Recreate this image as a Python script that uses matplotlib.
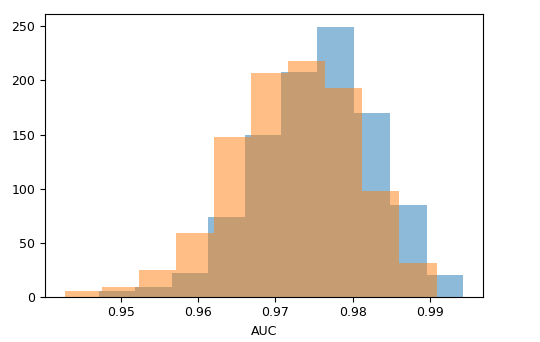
import matplotlib
matplotlib.use("Agg")
import matplotlib.pyplot as plt
import numpy as np

# Series 1 (blue) histogram: bin edges and counts
blue_edges = [0.94718, 0.95189, 0.95660, 0.96131, 0.96602, 0.97073,
              0.97545, 0.98016, 0.98487, 0.98958, 0.99429]
blue_counts = [5, 9, 22, 74, 150, 208, 249, 170, 85, 20]

# Series 2 (orange) histogram: bin edges and counts
orange_edges = [0.94276, 0.94757, 0.95238, 0.95719, 0.96200, 0.96681,
                0.97163, 0.97644, 0.98125, 0.98606, 0.99087]
orange_counts = [5, 9, 25, 59, 148, 207, 218, 193, 98, 31]

xlabel = "AUC"
xticks = [0.95, 0.96, 0.97, 0.98, 0.99]
yticks = [0, 50, 100, 150, 200, 250]

plt.rcParams['font.family'] = ['DejaVu Sans']
fig = plt.figure(figsize=(5.4, 3.42), dpi=100)
ax = fig.add_axes([0.0833, 0.1325, 0.8111, 0.8265])

ax.hist(blue_edges[:-1], bins=blue_edges, weights=blue_counts,
        color="C0", alpha=0.5)
ax.hist(orange_edges[:-1], bins=orange_edges, weights=orange_counts,
        color="C1", alpha=0.5)

ax.set_xticks(xticks)
ax.set_xticklabels([f"{t:.2f}" for t in xticks])
ax.set_yticks(yticks)
ax.tick_params(labelsize=9)
ax.set_xlabel(xlabel, fontsize=9)

fig.savefig("out.png", dpi=100)
